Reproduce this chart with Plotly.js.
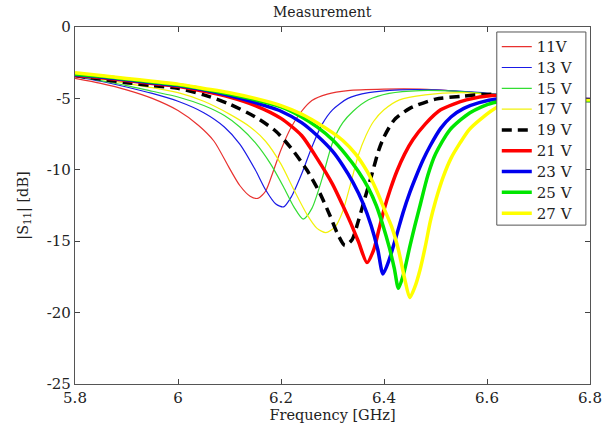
<!DOCTYPE html>
<html>
<head>
<meta charset="utf-8">
<script src="https://cdn.plot.ly/plotly-3.0.1.min.js"></script>
<style>html,body{margin:0;padding:0;background:#fff;}#chart{width:603px;height:428px;}</style>
</head>
<body>
<div id="chart"></div>
<script>
// ---- data ----
const seriesNames = ["11V", "13 V", "15 V", "17 V", "19 V", "21 V", "23 V", "25 V", "27 V"];

const f11 = [5.80,5.85,5.90,5.95,6.00,6.04,6.07,6.10,6.12,6.14,6.155,6.17,6.185,6.20,6.22,6.24,6.26,6.29,6.33,6.40,6.47,6.54,6.60,6.70,6.80];
const s11 = [-3.6,-3.95,-4.4,-5.0,-5.85,-6.9,-8.0,-9.9,-11.1,-11.85,-12.0,-11.5,-10.1,-8.6,-7.0,-5.9,-5.15,-4.7,-4.45,-4.35,-4.35,-4.5,-4.7,-4.9,-5.0];

const f13 = [5.80,5.85,5.90,5.95,6.00,6.05,6.09,6.12,6.15,6.17,6.19,6.205,6.22,6.24,6.26,6.28,6.30,6.33,6.37,6.43,6.50,6.57,6.64,6.72,6.80];
const s13 = [-3.45,-3.8,-4.2,-4.65,-5.2,-6.0,-7.0,-8.2,-10.0,-11.4,-12.4,-12.6,-11.9,-10.3,-8.4,-6.8,-5.8,-5.0,-4.6,-4.4,-4.4,-4.55,-4.75,-4.9,-5.0];

const f15 = [5.80,5.85,5.90,5.95,6.00,6.05,6.09,6.12,6.15,6.18,6.205,6.225,6.243,6.26,6.28,6.30,6.32,6.34,6.37,6.41,6.47,6.54,6.61,6.70,6.80];
const s15 = [-3.4,-3.75,-4.1,-4.5,-4.9,-5.5,-6.2,-7.0,-8.1,-9.6,-11.2,-12.6,-13.45,-12.7,-10.6,-8.1,-6.7,-5.9,-5.1,-4.65,-4.45,-4.5,-4.7,-4.9,-5.05];

const f17 = [5.80,5.85,5.90,5.95,6.00,6.05,6.10,6.14,6.17,6.20,6.225,6.25,6.27,6.287,6.305,6.32,6.335,6.35,6.365,6.38,6.40,6.43,6.48,6.55,6.62,6.70,6.80];
const s17 = [-3.35,-3.65,-3.95,-4.25,-4.6,-5.2,-6.1,-7.0,-8.0,-9.6,-11.4,-13.1,-14.1,-14.4,-14.0,-12.9,-11.0,-9.0,-7.6,-6.6,-5.8,-5.1,-4.75,-4.6,-4.75,-4.9,-5.05];

const f19 = [5.80,5.85,5.90,5.95,6.00,6.05,6.10,6.15,6.19,6.22,6.25,6.275,6.295,6.31,6.324,6.338,6.35,6.362,6.375,6.39,6.40,6.42,6.45,6.50,6.55,6.61,6.70,6.80];
const s19 = [-3.4,-3.65,-3.9,-4.1,-4.3,-4.75,-5.4,-6.3,-7.3,-8.5,-10.0,-11.6,-13.2,-14.5,-15.3,-14.9,-13.6,-12.1,-10.5,-8.6,-7.7,-6.5,-5.7,-5.05,-4.85,-4.7,-4.9,-5.1];

const f21 = [5.80,5.85,5.90,5.95,6.00,6.05,6.10,6.15,6.20,6.24,6.27,6.30,6.32,6.335,6.35,6.367,6.38,6.39,6.40,6.412,6.425,6.44,6.456,6.48,6.51,6.56,6.61,6.70,6.80];
const s21 = [-3.4,-3.55,-3.75,-3.95,-4.15,-4.5,-4.9,-5.5,-6.4,-7.6,-9.2,-11.0,-12.5,-13.7,-15.0,-16.5,-15.6,-14.2,-12.8,-11.4,-10.1,-8.9,-7.9,-6.8,-5.8,-5.1,-4.8,-5.0,-5.15];

const f23 = [5.80,5.85,5.90,5.95,6.00,6.05,6.10,6.15,6.20,6.24,6.27,6.30,6.32,6.34,6.36,6.375,6.388,6.398,6.41,6.425,6.437,6.45,6.463,6.476,6.49,6.51,6.53,6.555,6.585,6.62,6.70,6.80];
const s23 = [-3.35,-3.5,-3.7,-3.9,-4.1,-4.4,-4.8,-5.3,-5.9,-6.7,-7.6,-8.7,-9.7,-10.9,-12.4,-13.9,-15.6,-17.3,-16.3,-14.5,-13.0,-11.6,-10.4,-9.3,-8.3,-7.1,-6.3,-5.7,-5.3,-5.05,-5.1,-5.15];

const f25 = [5.80,5.85,5.90,5.95,6.00,6.05,6.10,6.15,6.20,6.24,6.27,6.30,6.325,6.35,6.37,6.385,6.398,6.41,6.42,6.428,6.438,6.45,6.46,6.47,6.485,6.50,6.528,6.567,6.612,6.70,6.80];
const s25 = [-3.3,-3.45,-3.65,-3.85,-4.05,-4.35,-4.7,-5.1,-5.6,-6.3,-7.0,-7.9,-8.9,-10.1,-11.3,-12.5,-13.9,-15.4,-16.9,-18.3,-17.3,-15.4,-13.9,-12.5,-10.4,-8.9,-7.2,-6.0,-5.3,-5.2,-5.15];

const f27 = [5.80,5.85,5.90,5.95,6.00,6.05,6.10,6.15,6.20,6.24,6.27,6.30,6.32,6.345,6.367,6.385,6.40,6.415,6.428,6.44,6.45,6.46,6.47,6.48,6.49,6.50,6.515,6.53,6.548,6.565,6.586,6.621,6.66,6.72,6.80];
const s27 = [-3.2,-3.4,-3.6,-3.8,-4.0,-4.3,-4.6,-5.0,-5.5,-6.1,-6.7,-7.4,-7.95,-8.9,-10.1,-11.4,-12.7,-14.0,-15.6,-17.6,-18.95,-18.2,-17.0,-15.4,-13.6,-12.2,-10.5,-9.2,-8.1,-7.2,-6.5,-5.6,-5.3,-5.15,-5.1];

const xTickVals = [5.8, 6.0, 6.2, 6.4, 6.6, 6.8];
const xTickText = ["5.8", "6", "6.2", "6.4", "6.6", "6.8"];
const yTickVals = [0, -5, -10, -15, -20, -25];
const yTickText = ["0", "-5", "-10", "-15", "-20", "-25"];

// ---- styling ----
const freqs = [f11, f13, f15, f17, f19, f21, f23, f25, f27];
const vals  = [s11, s13, s15, s17, s19, s21, s23, s25, s27];
const colors = ["#e8312f", "#1a1ae6", "#33dd33", "#f2f20a", "#000000", "#ff0000", "#0000ee", "#00e600", "#ffff00"];
const widths = [1.2, 1.2, 1.2, 1.2, 3.5, 3.5, 3.5, 3.5, 3.5];
const dashes = ["solid","solid","solid","solid","10px,6px","solid","solid","solid","solid"];

const traces = seriesNames.map((n, i) => ({
  x: freqs[i], y: vals[i], type: "scatter", mode: "lines",
  name: '<span style="font-size:15px">' + n + '</span>',
  line: {color: colors[i], width: widths[i], dash: dashes[i], shape: "spline", smoothing: 0.7}
}));

const fam = "DejaVu Serif, Liberation Serif, serif";
const txt = "#222";

const layout = {
  width: 603, height: 428,
  margin: {l: 75, r: 13, t: 27, b: 44},
  paper_bgcolor: "#fff", plot_bgcolor: "#fff",
  font: {family: fam, size: 14, color: txt},
  showlegend: true,
  title: {text: "Measurement", font: {family: fam, size: 14, color: txt}, x: 0.48, xref: "paper", xanchor: "center", y: 0.972, yref: "container", yanchor: "middle"},
  xaxis: {
    range: [5.8, 6.8], tickvals: xTickVals, ticktext: xTickText,
    ticks: "inside", ticklen: 5, tickcolor: "#444", showline: true, linecolor: "#555", linewidth: 1.2,
    mirror: "ticks", showgrid: false, zeroline: false,
    tickfont: {family: fam, size: 15, color: txt},
    title: {text: "Frequency [GHz]", font: {family: fam, size: 14.5, color: txt}, standoff: 0}
  },
  yaxis: {
    range: [-25, 0], tickvals: yTickVals, ticktext: yTickText,
    ticks: "inside", ticklen: 5, tickcolor: "#444", showline: true, linecolor: "#555", linewidth: 1.2,
    mirror: "ticks", showgrid: false, zeroline: false,
    tickfont: {family: fam, size: 15, color: txt},
    title: {text: "|S<sub>11</sub>| [dB]", font: {family: fam, size: 14.5, color: txt}, standoff: 14}
  },
  // legend frame drawn as a box so it can be as wide as the reference one
  shapes: [{
    type: "rect", xref: "paper", yref: "paper", layer: "above",
    x0: 0.819, x1: 0.992, y0: 0.445, y1: 0.986,
    fillcolor: "#fff", line: {color: "#555", width: 1}
  }],
  legend: {
    x: 0.819, y: 0.988, xanchor: "left", yanchor: "top",
    bgcolor: "rgba(0,0,0,0)", borderwidth: 0,
    font: {family: fam, size: 13.7, color: txt},
    itemwidth: 30, tracegroupgap: 0
  }
};

Plotly.newPlot("chart", traces, layout, {staticPlot: true, displayModeBar: false});
</script>
</body>
</html>
